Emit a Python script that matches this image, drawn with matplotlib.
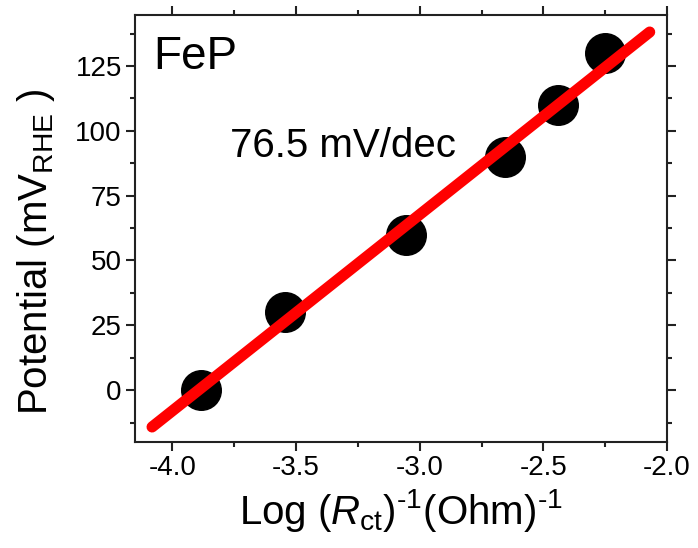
import matplotlib
matplotlib.use('Agg')
import matplotlib.pyplot as plt
from matplotlib.ticker import MultipleLocator

plt.rcParams['font.family'] = ['Liberation Sans', 'DejaVu Sans']
plt.rcParams['mathtext.fontset'] = 'custom'
plt.rcParams['mathtext.rm'] = 'Liberation Sans'
plt.rcParams['mathtext.it'] = 'Liberation Sans:italic'
plt.rcParams['axes.unicode_minus'] = False

# measured points: log(1/Rct) vs potential
log_inv_rct = [-3.886, -3.543, -3.055, -2.656, -2.440, -2.252]
potential = [0, 30, 60, 90, 110, 130]

# linear fit line ends (slope 76.5 mV/dec)
fit_x = [-4.082, -2.070]
fit_y = [-14.2, 138.1]

x_ticks = [-4.0, -3.5, -3.0, -2.5, -2.0]
y_ticks = [0, 25, 50, 75, 100, 125]

fig = plt.figure(figsize=(6.98, 5.48), dpi=100)
ax = fig.add_axes([0.1934, 0.1934, 0.7622, 0.7789])

ax.plot(log_inv_rct, potential, 'o', color='black', markersize=28.5, zorder=2)
ax.plot(fit_x, fit_y, '-', color='#ff0000', linewidth=8,
        solid_capstyle='round', zorder=3)

ax.set_xlim(-4.151, -2.0)
ax.set_ylim(-20, 144.6)
ax.set_xticks(x_ticks)
ax.set_yticks(y_ticks)
ax.set_xticklabels([f'{v:.1f}' for v in x_ticks])
ax.xaxis.set_minor_locator(MultipleLocator(0.25))
ax.yaxis.set_minor_locator(MultipleLocator(12.5))

for s in ax.spines.values():
    s.set_linewidth(1.5)
    s.set_color('#222222')
ax.tick_params(which='both', direction='out', top=True, right=True,
               width=1.5, color='#222222', labelsize=20, pad=3)
ax.tick_params(which='major', length=6.5)
ax.tick_params(which='minor', length=3.5)

ax.set_xlabel(r'Log ($\mathit{R}_{\rm ct}$)$^{\text{-1}}$(Ohm)$^{\text{-1}}$', fontsize=29)
ax.set_ylabel(r'Potential (mV$_{\rm RHE}$ )', fontsize=29)
ax.yaxis.set_label_coords(-0.147, 0.445)

ax.text(0.034, 0.8735, 'FeP', transform=ax.transAxes, fontsize=33,
        ha='left', va='baseline')
ax.text(0.1786, 0.667, '76.5 mV/dec', transform=ax.transAxes, fontsize=29,
        ha='left', va='baseline')

fig.savefig('out.png', dpi=100)
